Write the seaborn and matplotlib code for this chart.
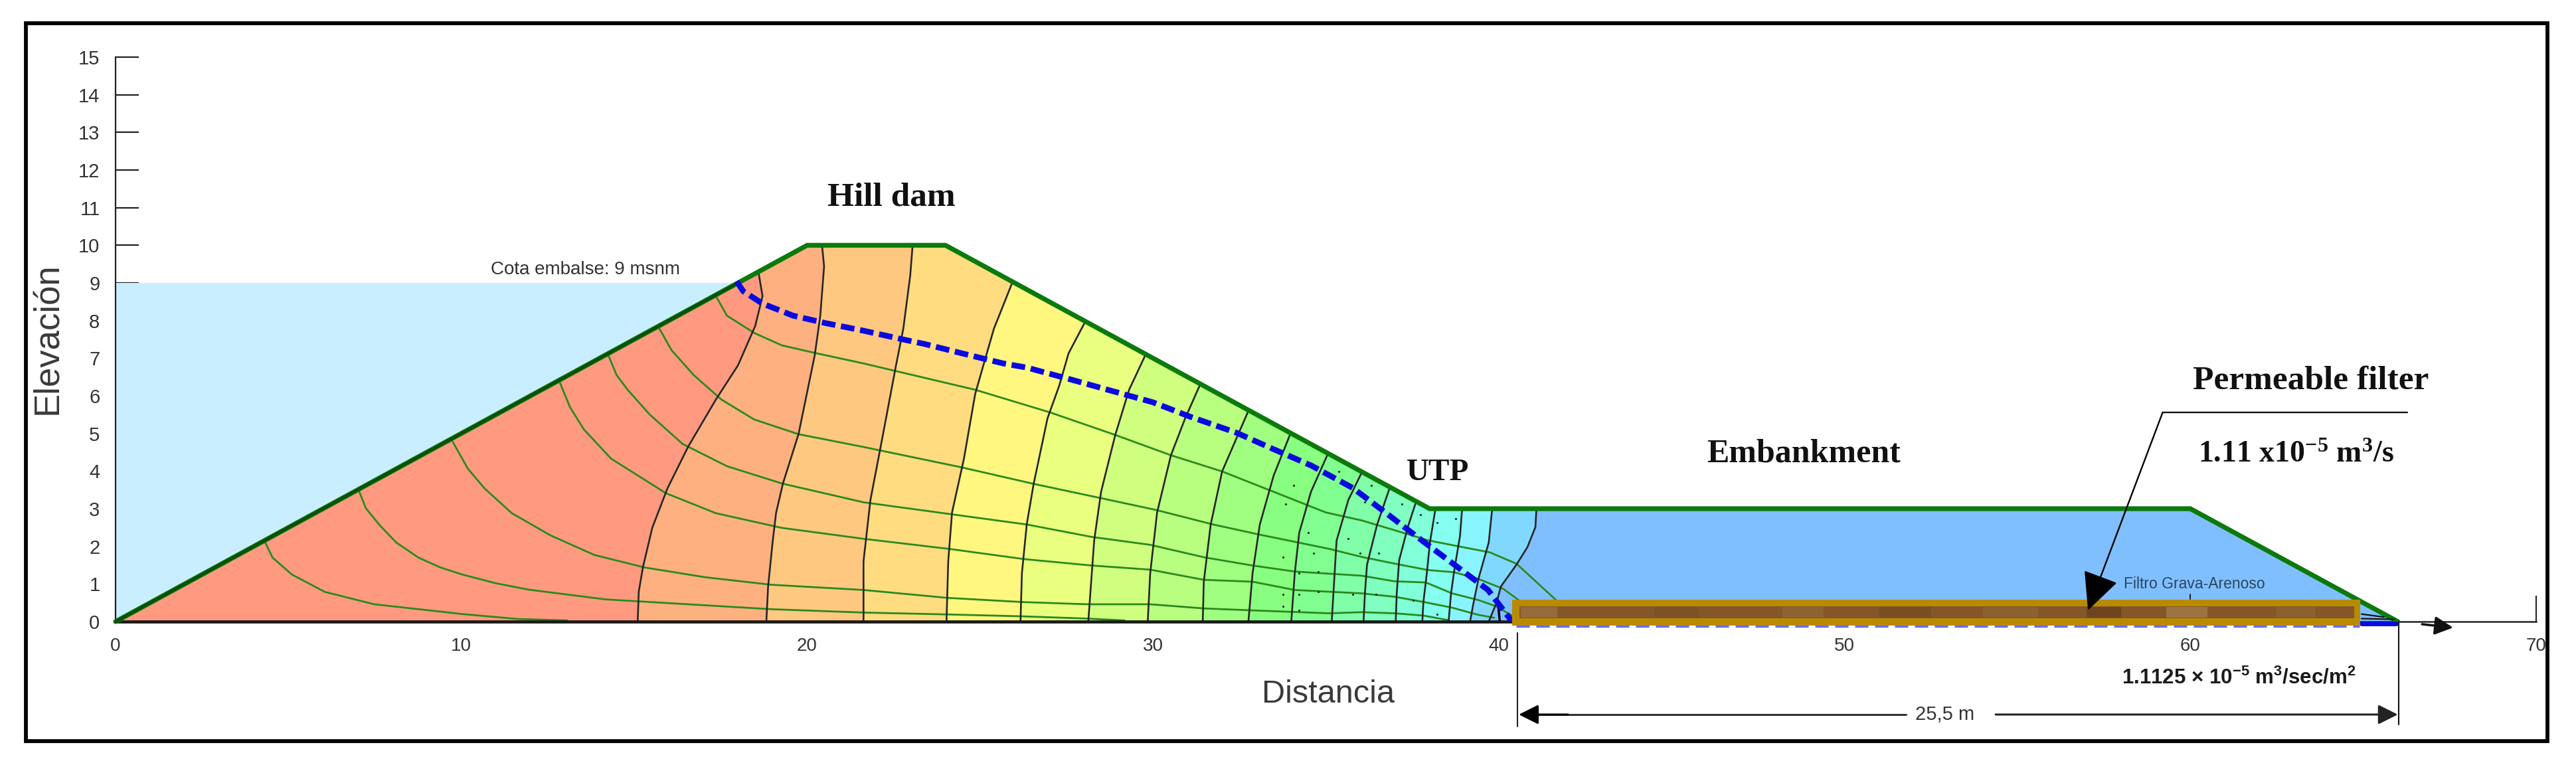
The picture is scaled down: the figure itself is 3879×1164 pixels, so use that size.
import matplotlib
matplotlib.use('Agg')
import matplotlib.pyplot as plt
from matplotlib.patches import Polygon, Rectangle
import seaborn as sns

# dam outline and reservoir
dam_x = [0, 20, 24, 38, 60, 66]
dam_y = [0, 10, 10, 3, 3, 0]
water_x = [0, 0, 18]
water_y = [0, 9, 9]

# equipotential lines, top to bottom
equipotentials = [
    ([18.6, 18.71, 18.5, 18.0, 17.36, 16.56, 15.96, 15.52, 15.25, 15.13, 15.1],
     [9.24, 8.65, 7.86, 6.81, 5.9, 4.65, 3.54, 2.49, 1.44, 0.79, 0]),
    ([20.43, 20.49, 20.38, 20.22, 19.75, 19.3, 19.1, 19.0, 18.87, 18.82],
     [10, 9.44, 8.13, 7.08, 4.98, 3.67, 2.88, 2.1, 0.92, 0]),
    ([23.05, 22.98, 22.78, 22.57, 22.17, 21.83, 21.63, 21.63],
     [10, 9.19, 7.78, 6.81, 4.86, 3.23, 1.6, 0]),
    ([25.92, 25.4, 25.13, 24.86, 24.53, 24.19, 24.08, 24.03],
     [8.98, 7.78, 6.92, 6.05, 4.31, 2.9, 1.6, 0]),
    ([28.03, 27.56, 27.29, 26.95, 26.55, 26.35, 26.21, 26.17],
     [7.95, 7.13, 6.27, 5.4, 3.66, 2.58, 1.28, 0]),
    ([29.78, 29.31, 28.91, 28.5, 28.3, 28.13],
     [7.08, 6.16, 4.96, 3.45, 2.15, 0]),
    ([31.36, 30.93, 30.52, 30.12, 29.92, 29.85],
     [6.29, 5.4, 4.42, 2.9, 1.28, 0]),
    ([32.75, 32.41, 32.0, 31.67, 31.47, 31.44],
     [5.58, 4.86, 3.99, 2.58, 1.06, 0]),
    ([33.96, 33.49, 33.09, 32.88, 32.76],
     [4.96, 3.88, 2.58, 1.28, 0]),
    ([35.04, 34.57, 34.23, 34.1, 34.0],
     [4.42, 3.45, 2.36, 1.28, 0]),
    ([36.02, 35.65, 35.31, 35.17],
     [3.93, 3.23, 2.15, 0]),
    ([36.83, 36.48, 36.19, 36.13, 36.09],
     [3.51, 2.57, 1.51, 0.75, 0]),
    ([37.6, 37.37, 37.12, 37.05, 37.02],
     [3.16, 2.51, 1.63, 0.75, 0]),
    ([38.17, 38.01, 37.92, 37.82, 37.79],
     [3, 2.1, 1.28, 0.51, 0]),
    ([38.94, 38.88, 38.72, 38.62, 38.55],
     [3, 2.28, 1.4, 0.75, 0]),
    ([39.81, 39.71, 39.42, 39.26, 39.17],
     [3, 2.1, 1.16, 0.45, 0]),
    ([41.09, 41.06, 40.83, 40.51, 40.06, 39.94, 39.71],
     [3, 2.51, 1.98, 1.51, 0.93, 0.51, 0]),
]
band_colors = ['#FF9A80', '#FFB080', '#FFC880', '#FFDC80', '#FFF780', '#EAFF80',
               '#D0FF80', '#B8FF80', '#A0FF80', '#88FF80', '#80FF90', '#80FFA8',
               '#80FFC0', '#80FFD8', '#84FFF0', '#88F4FF', '#80D8FF', '#80BFFF']

# flow lines
flow_lines = [
    ([4.3, 4.54, 5.1, 6.05, 7.48, 8.76, 10.03, 11.62, 13.06],
     [2.16, 1.7, 1.25, 0.79, 0.46, 0.33, 0.2, 0.07, 0.03]),
    ([7.04, 7.24, 7.64, 8.12, 8.76, 9.39, 10.03, 10.99, 11.94, 14.17, 16.56, 18.95, 21.63,
      24.06, 26.21, 28.1, 29.18],
     [3.47, 3.01, 2.56, 2.1, 1.7, 1.44, 1.25, 1.02, 0.85, 0.59, 0.46, 0.33, 0.24,
      0.19, 0.14, 0.08, 0.03]),
    ([9.75, 10.19, 10.67, 11.46, 12.58, 13.85, 15.29, 17.04, 18.95, 21.63, 24.06, 26.21, 28.1,
      29.92, 31.47, 32.82, 35.11, 36.03, 36.99, 37.82, 38.53],
     [4.78, 4.06, 3.54, 2.88, 2.29, 1.77, 1.44, 1.18, 0.98, 0.84, 0.63, 0.52, 0.46,
      0.46, 0.35, 0.3, 0.22, 0.25, 0.22, 0.16, 0.04]),
    ([12.82, 13.14, 13.54, 14.33, 15.92, 17.36, 19.27, 21.63, 24.12, 26.28, 28.23, 29.92, 31.47,
      32.88, 34.1, 36.03, 36.99, 37.89, 38.65, 39.36, 39.87],
     [6.42, 5.7, 5.11, 4.33, 3.41, 2.88, 2.49, 2.2, 1.93, 1.66, 1.49, 1.38, 1.11,
      1.06, 0.84, 0.75, 0.66, 0.51, 0.37, 0.19, 0.1]),
    ([14.25, 14.49, 14.81, 15.45, 16.4, 17.68, 19.27, 21.63, 24.19, 26.35, 28.23, 29.92, 31.47,
      32.88, 34.1, 36.03, 36.99, 37.89, 38.65, 39.42, 39.94, 40.38],
     [7.08, 6.55, 6.16, 5.5, 4.72, 4.13, 3.67, 3.17, 2.85, 2.58, 2.25, 2.04, 1.71,
      1.49, 1.33, 1.22, 1.07, 1.04, 0.75, 0.57, 0.4, 0.16]),
    ([15.68, 16.08, 16.72, 17.52, 18.47, 19.75, 21.63, 24.46, 26.55, 28.5, 30.12, 31.74, 33.09,
      35.11, 36.03, 36.99, 37.95, 38.72, 39.42, 40.13, 40.58],
     [7.86, 7.21, 6.55, 5.9, 5.37, 4.98, 4.64, 4.1, 3.66, 3.28, 2.96, 2.58, 2.31,
      1.93, 1.72, 1.54, 1.37, 1.31, 1.13, 0.87, 0.57]),
    ([17.36, 17.68, 18.47, 19.27, 20.22, 21.63, 24.86, 27.02, 28.91, 30.52, 32.0, 33.35, 35.0,
      36.03, 37.31, 37.95, 38.78, 39.74, 40.51, 41.66],
     [8.65, 8.13, 7.67, 7.34, 7.14, 6.86, 6.16, 5.56, 4.96, 4.42, 3.99, 3.5, 2.9,
      2.69, 2.34, 2.16, 2.01, 1.84, 1.54, 0.57]),
]

# seepage line
seep_x = [17.96, 18.15, 18.71, 19.59, 20.54, 21.63, 22.17, 22.71, 23.38, 24.6, 25.67, 26.35,
          27.56, 28.77, 29.99, 31.06, 32.41, 33.49, 34.57, 35.78, 36.72, 37.8, 38.75, 39.69, 40.36]
seep_y = [9.04, 8.78, 8.45, 8.13, 7.93, 7.73, 7.62, 7.51, 7.38, 7.1, 6.86, 6.75,
          6.45, 6.14, 5.83, 5.45, 5.02, 4.58, 4.15, 3.55, 2.9, 2.14, 1.49, 0.84, 0.03]

# small grid dots near the toe
dots_x = [34.06, 33.83, 33.76, 33.76, 33.76, 34.23, 34.23, 34.23, 34.5, 34.64, 34.77, 34.77, 35.38,
          36.32, 36.12, 37.2, 37.73, 38.21, 38.75, 35.65, 35.98, 36.52, 35.78, 36.45, 37.53, 38.21]
dots_y = [3.61, 3.12, 1.71, 0.73, 0.41, 1.28, 0.73, 0.3, 2.36, 1.82, 1.33, 0.79, 3.99,
          3.61, 3.17, 3.12, 2.85, 2.63, 2.74, 2.2, 1.82, 1.82, 0.73, 0.73, 0.57, 0.2]

# lighter and darker patches in the filter gravel
tone_start = [40.64, 44.5, 48.2, 51.0, 54.0, 57.0, 59.3, 62.5]
tone_end = [41.7, 45.8, 49.4, 52.5, 55.6, 58.0, 60.5, 63.6]
tone_color = ['#966A3C', '#7E5228', '#8F6233', '#7A4E24', '#8C6030', '#6F4520', '#9C7444', '#8C6030']

x_ticks = [0, 10, 20, 30, 40, 50, 60, 70]
y_ticks = list(range(16))

W, H = 3880, 1164

sns.set_theme(style='white')
plt.rcParams['font.family'] = ['Liberation Sans', 'DejaVu Sans']
plt.rcParams['mathtext.default'] = 'regular'

fig = plt.figure(figsize=(W / 100, H / 100), dpi=100, facecolor='white')
ax = fig.add_axes([174 / W, (H - 936) / H, (3819 - 174) / W, (936 - 86) / H])
ax.set_xlim(0, 70)
ax.set_ylim(0, 15)
ax.patch.set_alpha(0)


def line(x, y, color, lw, z=3, **kws):
    sns.lineplot(x=x, y=y, sort=False, estimator=None, color=color, linewidth=lw,
                 zorder=z, clip_on=False, ax=ax, **kws)


# reservoir
ax.fill(water_x, water_y, color='#C8EEFF', lw=0, zorder=1)

# coloured bands, painted from the widest region down to the narrowest
dam_clip = Polygon(list(zip(dam_x, dam_y)), closed=True, transform=ax.transData)
ax.fill(dam_x, dam_y, color=band_colors[-1], lw=0, zorder=1.2)
for (ex, ey), col, z in zip(equipotentials[::-1], band_colors[-2::-1],
                            [1.3 + i * 0.01 for i in range(len(equipotentials))]):
    px = list(ex) + [-1, -1, ex[0]]
    py = list(ey) + [0, 15, 15]
    patch = ax.fill(px, py, color=col, lw=0, zorder=z)[0]
    patch.set_clip_path(dam_clip)

# net
for fx, fy in flow_lines:
    line(fx, fy, '#2A8A1C', 2.0, z=3, solid_joinstyle='round')
for ex, ey in equipotentials:
    line(ex, ey, '#262626', 1.9, z=3.1, solid_joinstyle='round')
line([39.97, 40.03], [0.57, 0], '#000000', 2.5, z=3.1)
sns.scatterplot(x=dots_x, y=dots_y, color='#222222', s=5, linewidth=0, zorder=3.2, ax=ax)

# base line and outline
line([0, 40.4], [0, 0], '#1A1A1A', 3.4, z=3.3)
line(dam_x, dam_y, '#0B7A0B', 5.2, z=4, solid_joinstyle='miter')
line([0, 18], [0, 9], '#0A4F0A', 3.2, z=4.1)
line(seep_x, seep_y, '#0A0AE0', 6.2, z=5, linestyle=(0, (2.4, 1.0)))

# filter
ax.add_patch(Rectangle((40.38, -0.1), 24.54, 0.68, fc='#B88A00', ec='none', zorder=6, clip_on=False))
ax.add_patch(Rectangle((40.6, 0.08), 24.14, 0.32, fc='#85562A', ec='none', zorder=6.1, clip_on=False))
for t0, t1, tc in zip(tone_start, tone_end, tone_color):
    ax.add_patch(Rectangle((t0, 0.1), t1 - t0, 0.28, fc=tc, ec='none', zorder=6.2, clip_on=False))
line([40.5, 64.9], [-0.12, -0.12], '#6A6AF5', 2.4, z=5.5, linestyle=(0, (6, 3)))
line([64.95, 65.95], [-0.06, -0.06], '#0A0AE0', 5, z=5.5)
line([64.95, 65.6], [0.2, 0.12], '#111111', 1.6, z=5.5)
line([64.95, 65.9], [0.08, 0.06], '#111111', 1.6, z=5.5)
line([60.0, 60.0], [0.6, 0.72], '#222222', 1.5, z=5.5)

# axes
sns.despine(ax=ax)
ax.spines['left'].set_color('#222222')
ax.spines['bottom'].set_color('#222222')
ax.spines['left'].set_linewidth(1.6)
ax.spines['bottom'].set_linewidth(1.8)
ax.set_xticks(x_ticks)
ax.set_yticks(y_ticks)
ax.tick_params(axis='x', direction='in', length=28, width=1.5, color='#222222', pad=17,
               labelsize=20, labelcolor='#333333', bottom=True)
ax.tick_params(axis='y', direction='in', length=25, width=1.6, color='#222222', pad=17,
               labelsize=21, labelcolor='#333333', left=True)
ax.grid(False)

fig.text(72 / W, 1 - 510 / H, 'Elevación', rotation=90, ha='center', va='center',
         fontsize=38, color='#3A3A3A')
fig.text(2000 / W, 1 - 1046 / H, 'Distancia', ha='center', va='center', fontsize=35, color='#3A3A3A')

# annotations
serif = ['Liberation Serif', 'DejaVu Serif']
fig.text(1342 / W, 1 - 298 / H, 'Hill dam', ha='center', va='center', fontsize=37,
         fontweight='bold', family=serif, color='#111111')
fig.text(2165 / W, 1 - 712 / H, 'UTP', ha='center', va='center', fontsize=34,
         fontweight='bold', family=serif, color='#111111')
fig.text(2716 / W, 1 - 684 / H, 'Embankment', ha='center', va='center', fontsize=36,
         fontweight='bold', family=serif, color='#111111')
fig.text(3480 / W, 1 - 573 / H, 'Permeable filter', ha='center', va='center', fontsize=37,
         fontweight='bold', family=serif, color='#111111')
fig.text(3457 / W, 1 - 685 / H, '1.11 x10$^{-5}$ m$^{3}$/s', ha='center', va='center', fontsize=33,
         fontweight='bold', family=serif, color='#111111')
fig.text(882 / W, 1 - 406 / H, 'Cota embalse: 9 msnm', ha='center', va='center', fontsize=20,
         color='#333333')
fig.text(3304 / W, 1 - 880 / H, 'Filtro Grava-Arenoso', ha='center', va='center', fontsize=16.5,
         color='#2B465F')
fig.text(3371 / W, 1 - 1021 / H, '1.1125 × 10$^{-5}$ m$^{3}$/sec/m$^{2}$', ha='center', va='center',
         fontsize=22.5, fontweight='bold', color='#1A1A1A')
fig.text(2929 / W, 1 - 1076 / H, '25,5 m', ha='center', va='center', fontsize=21, color='#333333')

# leader to the filter
line([66.28, 59.2], [5.56, 5.56], '#111111', 1.7, z=7)
ax.annotate('', xy=(57.04, 0.3), xytext=(59.2, 5.56), zorder=7, annotation_clip=False,
            arrowprops=dict(arrowstyle='-|>,head_length=1.0,head_width=0.48', color='black',
                            lw=1.7, mutation_scale=36, shrinkA=0, shrinkB=0))

# outflow arrow
ax.annotate('', xy=(67.6, -0.16), xytext=(66.7, -0.07), zorder=7, annotation_clip=False,
            arrowprops=dict(arrowstyle='-|>,head_length=0.7,head_width=0.35', color='#111111',
                            lw=2.5, mutation_scale=24, shrinkA=0, shrinkB=0))

# 25,5 m dimension
line([40.54, 40.54], [-0.3, -2.79], '#222222', 1.5, z=7)
line([66.03, 66.03], [0, -2.74], '#111111', 1.5, z=7)
line([51.78, 40.9], [-2.47, -2.47], '#333333', 2.2, z=7)
ax.annotate('', xy=(40.58, -2.47), xytext=(42, -2.47), zorder=7, annotation_clip=False,
            arrowprops=dict(arrowstyle='-|>,head_length=0.5,head_width=0.25', color='black',
                            lw=2.2, mutation_scale=36, shrinkA=0, shrinkB=0))
ax.annotate('', xy=(66.0, -2.47), xytext=(54.37, -2.47), zorder=7, annotation_clip=False,
            arrowprops=dict(arrowstyle='-|>,head_length=0.5,head_width=0.25', color='#222222',
                            lw=2.2, mutation_scale=36, shrinkA=0, shrinkB=0))

# outer frame
fig.add_artist(Rectangle((39 / W, 1 - 1116 / H), (3836 - 39) / W, (1116 - 35) / H, fill=False,
                         ec='black', lw=4.2, transform=fig.transFigure))

fig.savefig('out.png', dpi=100)
